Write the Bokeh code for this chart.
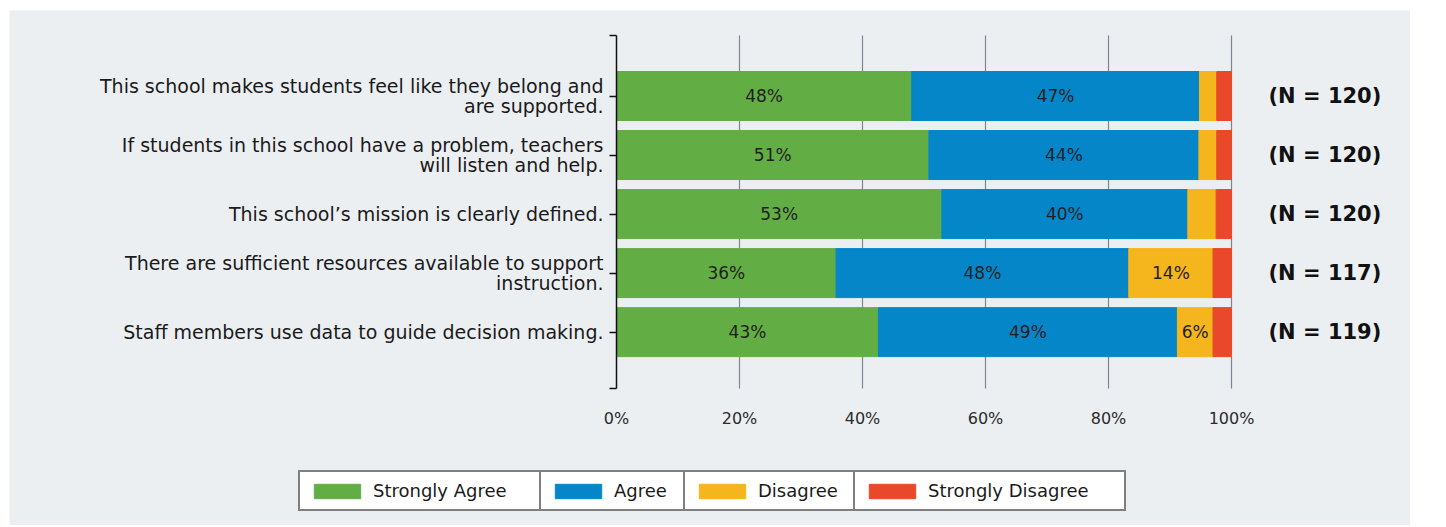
from bokeh.plotting import figure
from bokeh.models import (ColumnDataSource, FixedTicker, Range1d, LinearAxis,
                          Legend, LegendItem, PrintfTickFormatter)
from bokeh.core.properties import value
from bokeh.embed import file_html
from bokeh.resources import INLINE

# ---------------- data ----------------
questions = [
    "This school makes students feel like they belong and\nare supported.",
    "If students in this school have a problem, teachers\nwill listen and help.",
    "This school\u2019s mission is clearly defined.",
    "There are sufficient resources available to support\ninstruction.",
    "Staff members use data to guide decision making.",
]
strongly_agree = [48.0, 50.8, 52.9, 35.7, 42.6]
agree = [46.8, 43.9, 40.0, 47.6, 48.6]
disagree = [2.8, 2.9, 4.6, 13.7, 5.8]
strongly_disagree = [2.4, 2.4, 2.5, 3.0, 3.0]
n_resp = [120, 120, 120, 117, 119]
series_names = ["Strongly Agree", "Agree", "Disagree", "Strongly Disagree"]
series_colors = ["#63AD45", "#0586C9", "#F5B51D", "#E9482A"]
x_ticks = [0, 20, 40, 60, 80, 100]

# ---------------- derived ----------------
nq = len(questions)
ypos = [nq - i for i in range(nq)]
src = ColumnDataSource(dict(y=ypos, sa=strongly_agree, a=agree,
                            d=disagree, sd=strongly_disagree))

lx, ly, lt = [], [], []
for i in range(nq):
    vals = [strongly_agree[i], agree[i], disagree[i], strongly_disagree[i]]
    start = 0.0
    for v in vals:
        if v >= 5:
            lx.append(start + v / 2)
            ly.append(ypos[i])
            lt.append(f"{round(v)}%")
        start += v
lab_src = ColumnDataSource(dict(x=lx, y=ly, t=lt))

# ---------------- layout constants (canvas pixels) ----------------
W, H = 1410, 525
ML, MT = 9, 10                    # white strip left / top of the grey panel
PX_X0, PX_X100 = 616, 1231        # 0% and 100%
PX_TOP, PX_BOT = 35, 388          # top/bottom of the category axis
Y_LO, Y_HI = 0.045, 6.025         # category axis extent in data units

kx = (PX_X100 - PX_X0) / 100.0
ky = (PX_BOT - PX_TOP) / (Y_HI - Y_LO)
x_range = Range1d((ML - PX_X0) / kx, (W - PX_X0) / kx)
y_range = Range1d(Y_LO - (H - PX_BOT) / ky, Y_HI + (PX_TOP - MT) / ky)

BG = "#ECEFF2"
FONT = "DejaVu Sans"

p = figure(width=W, height=H, x_range=x_range, y_range=y_range,
           output_backend="svg", toolbar_location=None,
           min_border=0, min_border_left=ML, min_border_right=0,
           min_border_top=MT, min_border_bottom=0)
p.background_fill_color = BG
p.border_fill_color = "white"
p.outline_line_color = None
p.xgrid.visible = False
p.ygrid.visible = False

# vertical grid lines (behind the bars) at the x ticks
p.segment(x0=x_ticks[1:], x1=x_ticks[1:], y0=[Y_LO] * 5, y1=[Y_HI] * 5,
          line_color="#7d8790", line_width=1.2, level="underlay")

renderers = p.hbar_stack(["sa", "a", "d", "sd"], y="y", height=0.83,
                         color=series_colors, source=src)

p.text(x="x", y="y", text="t", source=lab_src, text_align="center",
       text_baseline="middle", text_font=value(FONT), text_font_size="17px",
       text_color="#1f1f1f")

# x axis (percent ticks) fixed at the bottom of the category axis
xa = p.xaxis[0]
xa.fixed_location = Y_LO
xa.ticker = FixedTicker(ticks=x_ticks)
xa.formatter = PrintfTickFormatter(format="%d%%")
xa.axis_line_color = None
xa.major_tick_line_color = None
xa.minor_tick_line_color = None
xa.major_label_standoff = 14
xa.major_label_text_font = FONT
xa.major_label_text_font_size = "16px"
xa.major_label_text_color = "#2b2b2b"

# left axis with question labels
ya = p.yaxis[0]
ya.fixed_location = 0
ya.bounds = (Y_LO, Y_HI)
ya.ticker = FixedTicker(ticks=[Y_LO] + ypos[::-1] + [Y_HI])
overrides = {y: q for y, q in zip(ypos, questions)}
overrides[Y_LO] = ""
overrides[Y_HI] = ""
ya.major_label_overrides = overrides
ya.axis_line_color = "#111111"
ya.axis_line_width = 1.5
ya.major_tick_line_color = "#111111"
ya.major_tick_line_width = 1.5
ya.major_tick_in = 0
ya.major_tick_out = 7
ya.minor_tick_line_color = None
ya.major_label_standoff = 6
ya.major_label_text_font = FONT
ya.major_label_text_font_size = "19px"
ya.major_label_text_color = "#1a1a1a"
ya.major_label_text_line_height = 0.92

# right axis with N labels
ra = LinearAxis(ticker=FixedTicker(ticks=ypos[::-1]), fixed_location=100,
                major_label_overrides={y: f"(N = {n})" for y, n in zip(ypos, n_resp)})
ra.axis_line_color = None
ra.major_tick_line_color = None
ra.minor_tick_line_color = None
ra.major_label_standoff = 31
ra.major_label_text_font = FONT
ra.major_label_text_font_style = "bold"
ra.major_label_text_font_size = "21px"
ra.major_label_text_color = "#111111"
p.add_layout(ra, "right")

# legend: four bordered cells side by side (screen offsets from frame bottom-left)
cells = [(298, 160), (539, 63), (683, 89), (853, 188)]
for r, name, (cx, lw) in zip(renderers, series_names, cells):
    leg = Legend(items=[LegendItem(label=name, renderers=[r])],
                 location=(cx - ML, H - 511), orientation="horizontal",
                 padding=8, margin=0, spacing=0,
                 glyph_width=58, glyph_height=18, label_standoff=7,
                 label_width=lw, label_height=20,
                 border_line_color="#000000", border_line_width=2,
                 background_fill_color="white", background_fill_alpha=1.0,
                 label_text_font=FONT, label_text_font_size="18px",
                 label_text_color="#1a1a1a")
    p.add_layout(leg, "center")

open("out.html", "w").write(file_html(p, INLINE))
